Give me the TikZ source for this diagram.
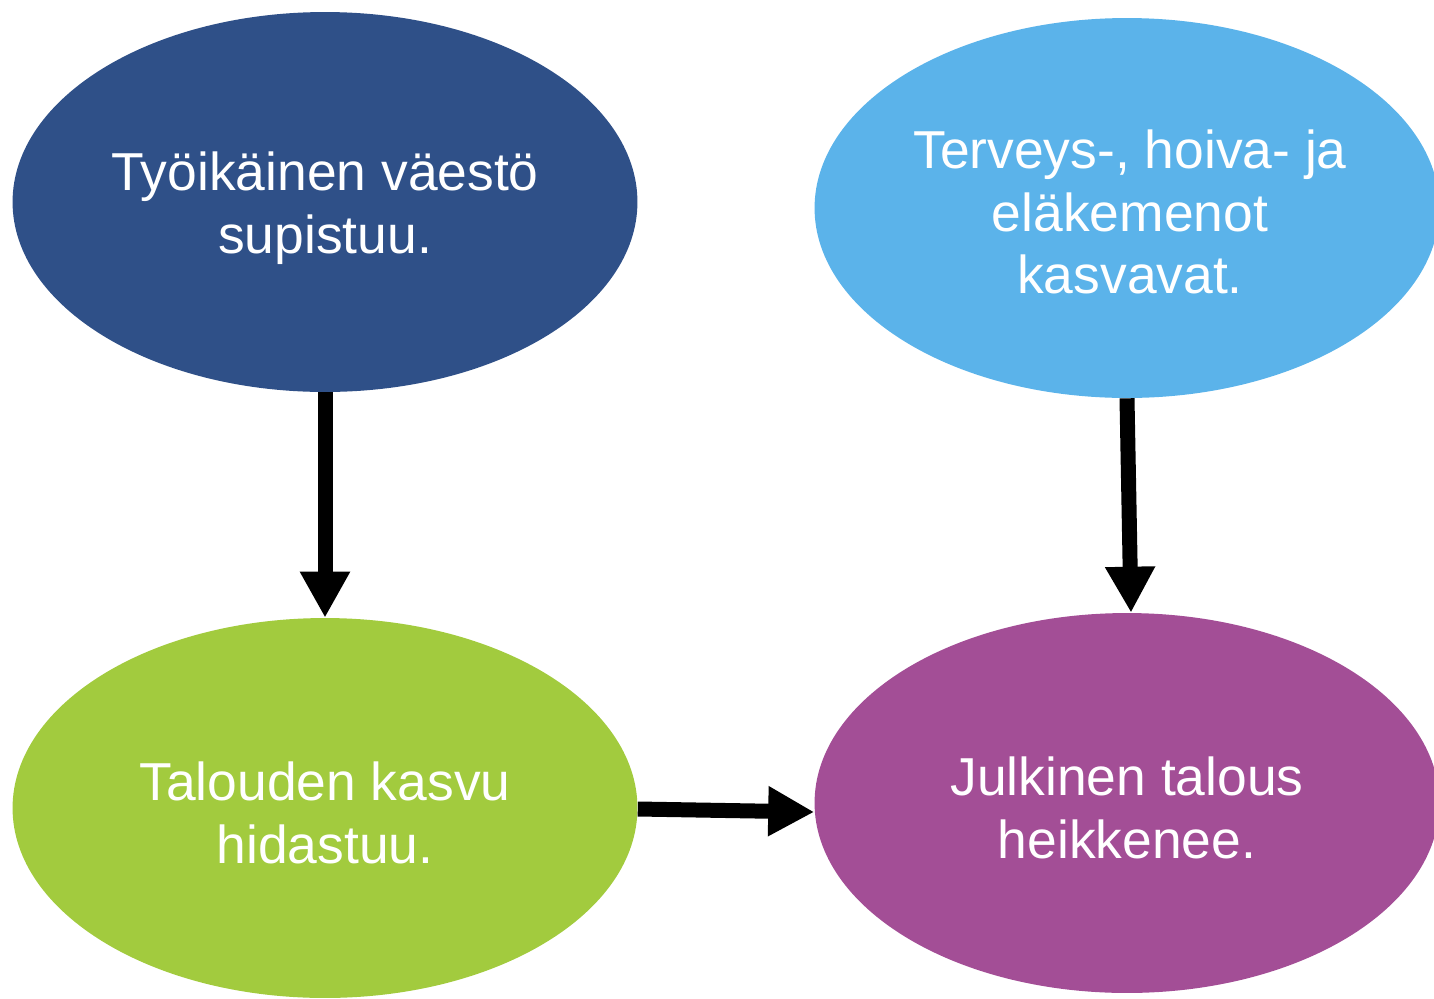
\documentclass[tikz,border=0pt]{standalone}
\usepackage{fontspec}
\setmainfont{Liberation Sans}
\usetikzlibrary{shapes.geometric,arrows.meta}
\definecolor{cdark}{HTML}{2F5088}
\definecolor{clight}{HTML}{5BB3EA}
\definecolor{cgreen}{HTML}{A2CB3E}
\definecolor{cpurple}{HTML}{A34E96}
\tikzset{
  bubble/.style={ellipse, draw=none, inner sep=0pt, minimum width=12.5cm, minimum height=7.6cm},
  txt/.style={inner sep=0pt, text=white, align=center, font=\fontsize{30.4}{35.6}\selectfont},
  conn/.style={line width=0.3cm, draw=black, -{Triangle[length=0.92cm,width=0.94cm]}}
}
\begin{document}
\begin{tikzpicture}[x=0.02cm,y=-0.02cm]
\useasboundingbox (0,0) rectangle (1434,998);
\node[bubble, fill=cdark] (a) at (325,202) {};
\node[bubble, fill=clight] (b) at (1127,208) {};
\node[bubble, fill=cgreen] (c) at (325,808) {};
\node[bubble, fill=cpurple] (d) at (1127,803) {};
\node[txt] (at) at ([yshift=-0.12cm]a.center) {Työikäinen väestö\\supistuu.};
\node[txt] (bt) at ([yshift=-0.08cm,xshift=0.06cm]b.center) {Terveys-, hoiva- ja\\eläkemenot\\kasvavat.};
\node[txt] (ct) at ([yshift=-0.1cm]c.center) {Talouden kasvu\\hidastuu.};
\node[txt] (dt) at ([yshift=-0.1cm]d.center) {Julkinen talous\\heikkenee.};
\draw[conn] (a.south) -- (c.north);
\draw[conn] (b.south) -- ([xshift=0.08cm]d.north);
\draw[conn] ([yshift=-0.02cm]c.east) -- ([yshift=-0.18cm]d.west);
\end{tikzpicture}
\end{document}
